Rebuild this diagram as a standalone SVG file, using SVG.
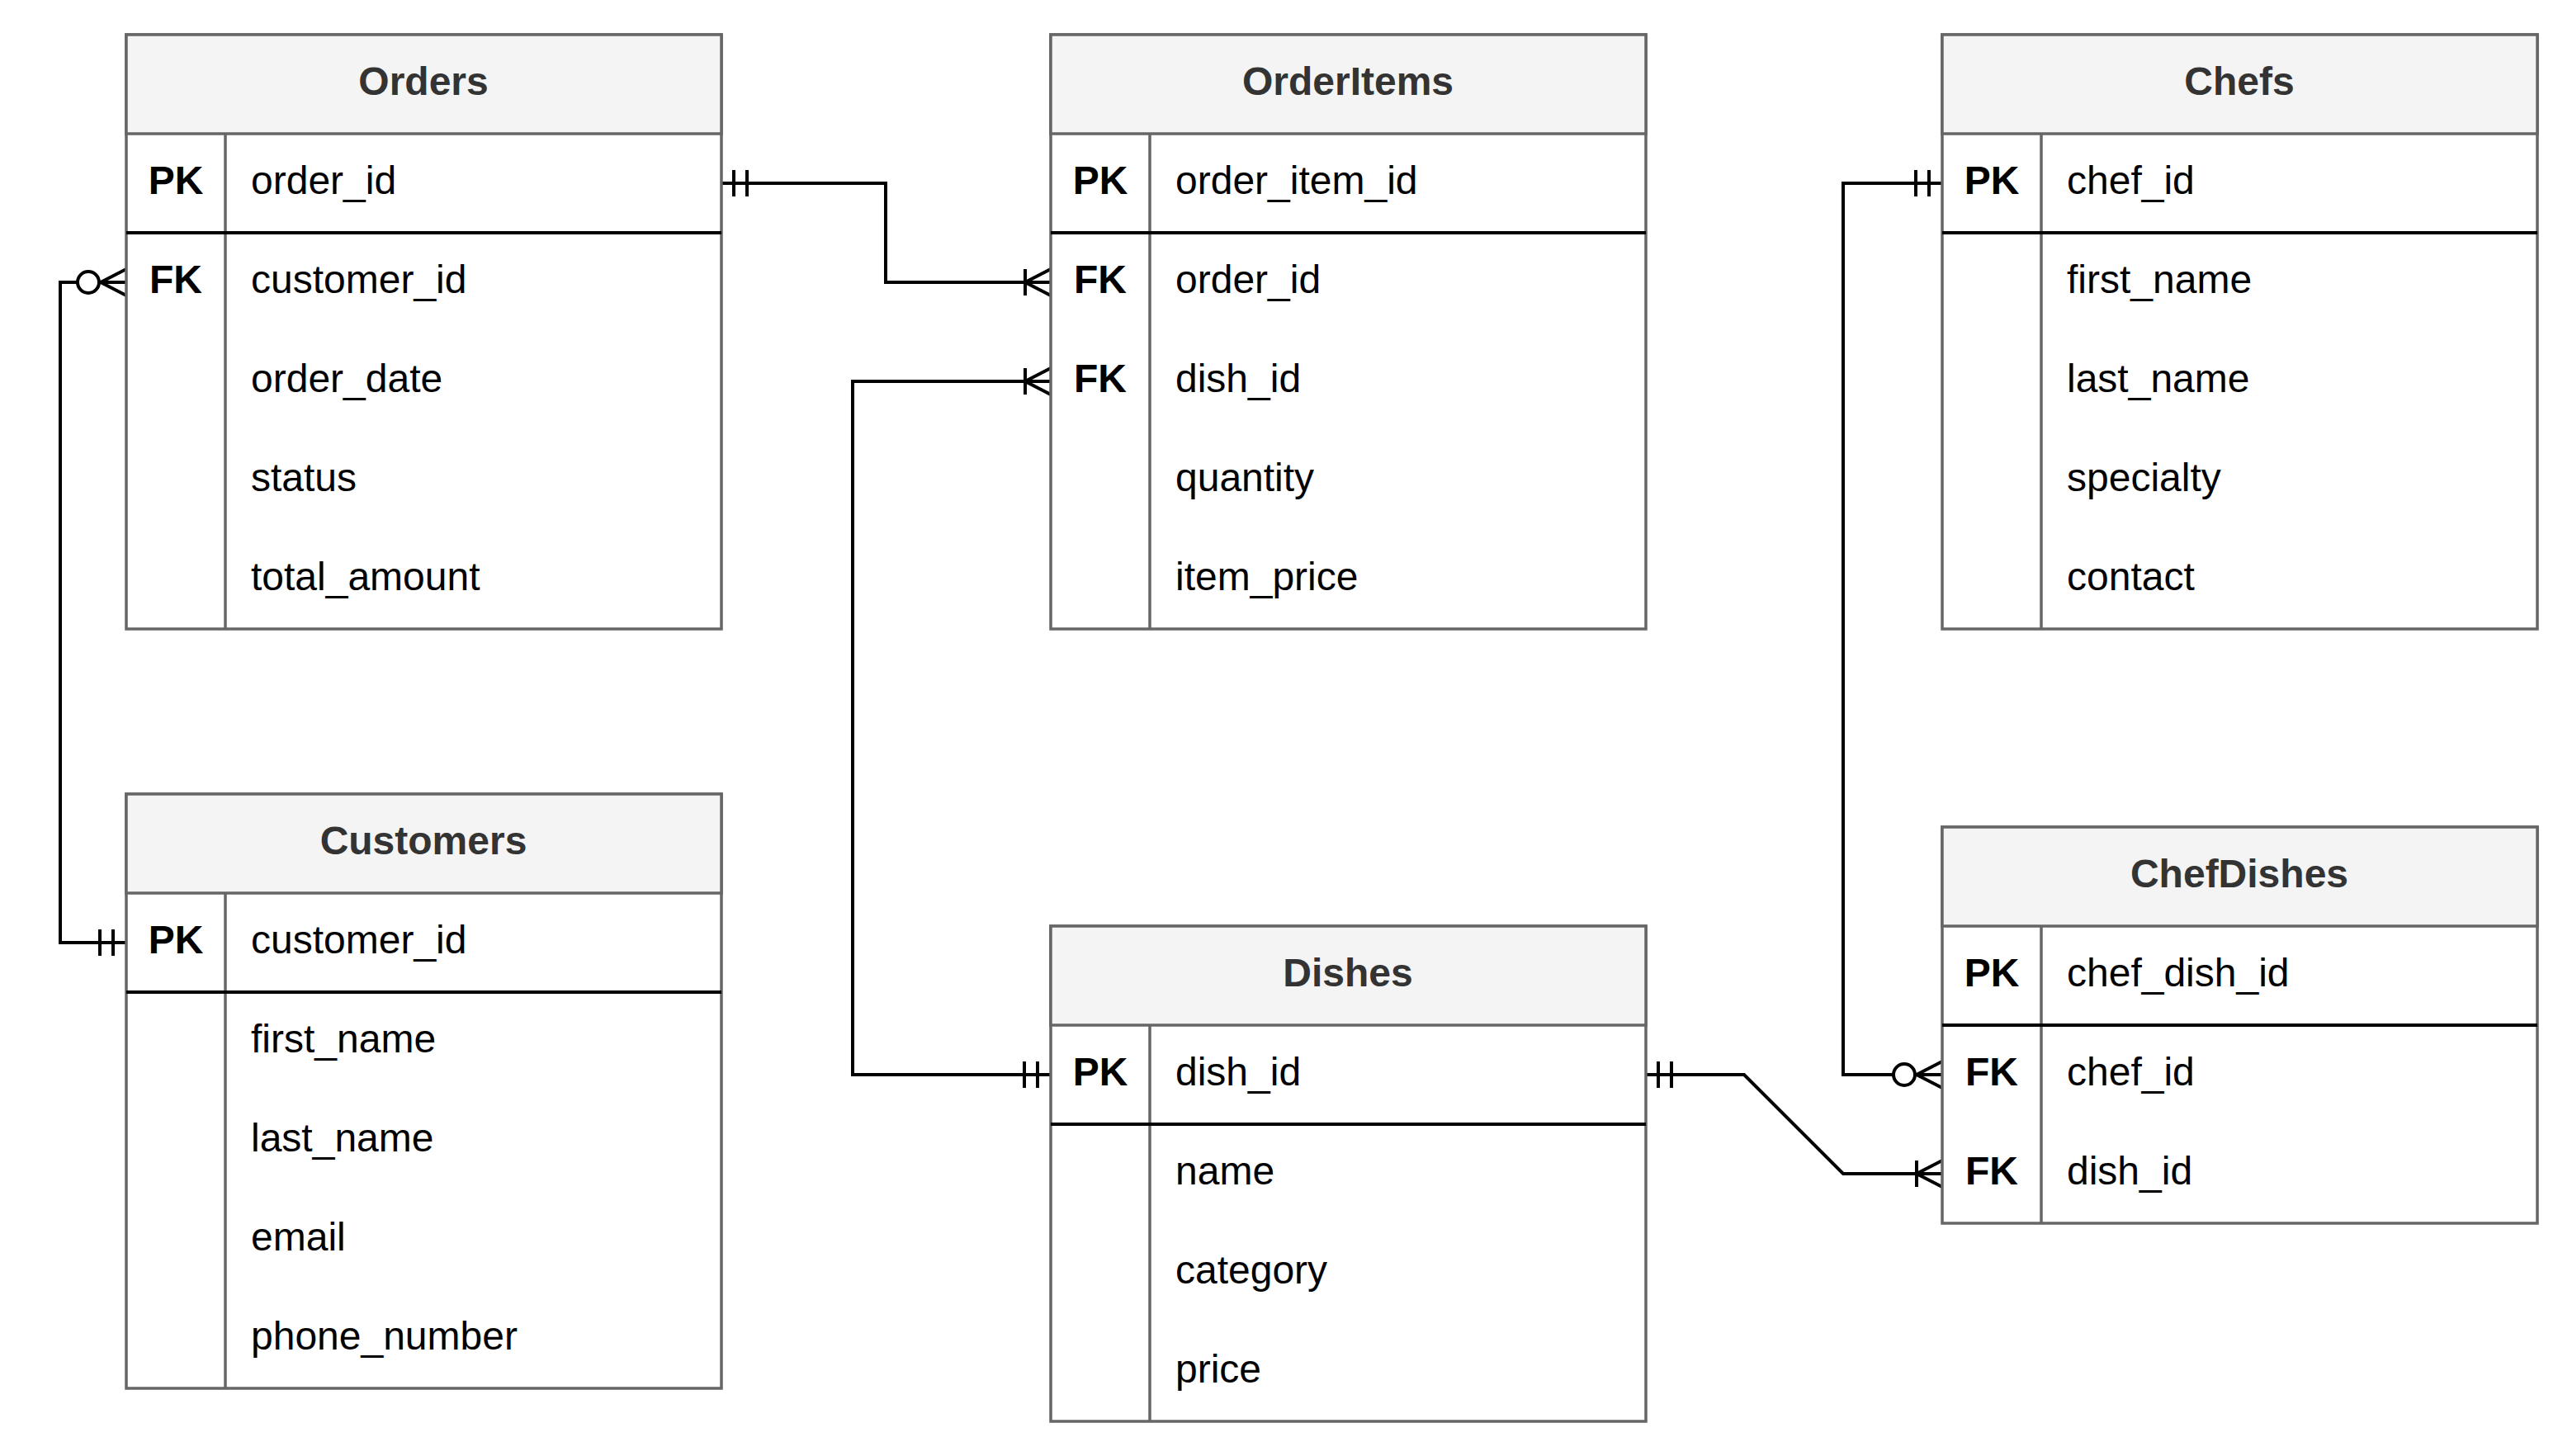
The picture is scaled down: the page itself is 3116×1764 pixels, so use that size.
<svg xmlns="http://www.w3.org/2000/svg" width="3116" height="1764" viewBox="0 0 3116 1764">
<style>
.bg{fill:#ffffff}
.box{fill:#ffffff;stroke:#666666;stroke-width:3.5}
.hdr{fill:#f4f4f4;stroke:#666666;stroke-width:3.5}
.div{stroke:#666666;stroke-width:3.5}
.sep{stroke:#000000;stroke-width:4}
.title{font-family:"Liberation Sans",Arial,sans-serif;font-size:48px;font-weight:bold;fill:#333333;text-anchor:middle}
.key{font-family:"Liberation Sans",Arial,sans-serif;font-size:48px;font-weight:bold;fill:#000000;text-anchor:middle}
.fld{font-family:"Liberation Sans",Arial,sans-serif;font-size:48px;fill:#000000}
.conn{fill:none;stroke:#000000;stroke-width:4}
.mk{fill:none;stroke:#000000;stroke-width:4}
</style>
<defs>
<marker id="one" viewBox="-60 -24 64 48" markerWidth="64" markerHeight="48" refX="0" refY="0" markerUnits="userSpaceOnUse" orient="auto-start-reverse" overflow="visible">
<path class="mk" d="M-16,-16V16M-32,-16V16"/>
</marker>
<marker id="many" viewBox="-60 -24 64 48" markerWidth="64" markerHeight="48" refX="0" refY="0" markerUnits="userSpaceOnUse" orient="auto-start-reverse" overflow="visible">
<path class="mk" d="M-31,-16V16M0,-16L-31,0L0,16"/>
</marker>
<marker id="zmany" viewBox="-64 -24 68 48" markerWidth="68" markerHeight="48" refX="0" refY="0" markerUnits="userSpaceOnUse" orient="auto-start-reverse" overflow="visible">
<circle cx="-46" cy="0" r="13" fill="#ffffff" stroke="#000000" stroke-width="4"/>
<path class="mk" d="M0,-16L-31,0L0,16M-33,0H0"/>
</marker>
</defs>
<rect class="bg" x="0" y="0" width="3116" height="1764"/>

<g id="connectors">
<path class="conn" d="M873,222H1073V342H1273" marker-start="url(#one)" marker-end="url(#many)"/>
<path class="conn" d="M1273,462H1033V1302H1273" marker-start="url(#many)" marker-end="url(#one)"/>
<path class="conn" d="M153,342H73V1142H153" marker-start="url(#zmany)" marker-end="url(#one)"/>
<path class="conn" d="M2353,222H2233V1302H2353" marker-start="url(#one)" marker-end="url(#zmany)"/>
<path class="conn" d="M1993,1302H2113L2233,1422H2353" marker-start="url(#one)" marker-end="url(#many)"/>
</g>

<g id="orders">
<rect class="box" x="153" y="42" width="721" height="720"/>
<rect class="hdr" x="153" y="42" width="721" height="120"/>
<line class="div" x1="273" y1="162" x2="273" y2="762"/>
<line class="sep" x1="153" y1="282" x2="874" y2="282"/>
<text class="title" x="513" y="115">Orders</text>
<text class="key" x="213" y="235">PK</text><text class="fld" x="304" y="235">order_id</text>
<text class="key" x="213" y="355">FK</text><text class="fld" x="304" y="355">customer_id</text>
<text class="fld" x="304" y="475">order_date</text>
<text class="fld" x="304" y="595">status</text>
<text class="fld" x="304" y="715">total_amount</text>
</g>

<g id="orderitems">
<rect class="box" x="1273" y="42" width="721" height="720"/>
<rect class="hdr" x="1273" y="42" width="721" height="120"/>
<line class="div" x1="1393" y1="162" x2="1393" y2="762"/>
<line class="sep" x1="1273" y1="282" x2="1994" y2="282"/>
<text class="title" x="1633" y="115">OrderItems</text>
<text class="key" x="1333" y="235">PK</text><text class="fld" x="1424" y="235">order_item_id</text>
<text class="key" x="1333" y="355">FK</text><text class="fld" x="1424" y="355">order_id</text>
<text class="key" x="1333" y="475">FK</text><text class="fld" x="1424" y="475">dish_id</text>
<text class="fld" x="1424" y="595">quantity</text>
<text class="fld" x="1424" y="715">item_price</text>
</g>

<g id="chefs">
<rect class="box" x="2353" y="42" width="721" height="720"/>
<rect class="hdr" x="2353" y="42" width="721" height="120"/>
<line class="div" x1="2473" y1="162" x2="2473" y2="762"/>
<line class="sep" x1="2353" y1="282" x2="3074" y2="282"/>
<text class="title" x="2713" y="115">Chefs</text>
<text class="key" x="2413" y="235">PK</text><text class="fld" x="2504" y="235">chef_id</text>
<text class="fld" x="2504" y="355">first_name</text>
<text class="fld" x="2504" y="475">last_name</text>
<text class="fld" x="2504" y="595">specialty</text>
<text class="fld" x="2504" y="715">contact</text>
</g>

<g id="customers">
<rect class="box" x="153" y="962" width="721" height="720"/>
<rect class="hdr" x="153" y="962" width="721" height="120"/>
<line class="div" x1="273" y1="1082" x2="273" y2="1682"/>
<line class="sep" x1="153" y1="1202" x2="874" y2="1202"/>
<text class="title" x="513" y="1035">Customers</text>
<text class="key" x="213" y="1155">PK</text><text class="fld" x="304" y="1155">customer_id</text>
<text class="fld" x="304" y="1275">first_name</text>
<text class="fld" x="304" y="1395">last_name</text>
<text class="fld" x="304" y="1515">email</text>
<text class="fld" x="304" y="1635">phone_number</text>
</g>

<g id="dishes">
<rect class="box" x="1273" y="1122" width="721" height="600"/>
<rect class="hdr" x="1273" y="1122" width="721" height="120"/>
<line class="div" x1="1393" y1="1242" x2="1393" y2="1722"/>
<line class="sep" x1="1273" y1="1362" x2="1994" y2="1362"/>
<text class="title" x="1633" y="1195">Dishes</text>
<text class="key" x="1333" y="1315">PK</text><text class="fld" x="1424" y="1315">dish_id</text>
<text class="fld" x="1424" y="1435">name</text>
<text class="fld" x="1424" y="1555">category</text>
<text class="fld" x="1424" y="1675">price</text>
</g>

<g id="chefdishes">
<rect class="box" x="2353" y="1002" width="721" height="480"/>
<rect class="hdr" x="2353" y="1002" width="721" height="120"/>
<line class="div" x1="2473" y1="1122" x2="2473" y2="1482"/>
<line class="sep" x1="2353" y1="1242" x2="3074" y2="1242"/>
<text class="title" x="2713" y="1075">ChefDishes</text>
<text class="key" x="2413" y="1195">PK</text><text class="fld" x="2504" y="1195">chef_dish_id</text>
<text class="key" x="2413" y="1315">FK</text><text class="fld" x="2504" y="1315">chef_id</text>
<text class="key" x="2413" y="1435">FK</text><text class="fld" x="2504" y="1435">dish_id</text>
</g>
</svg>
